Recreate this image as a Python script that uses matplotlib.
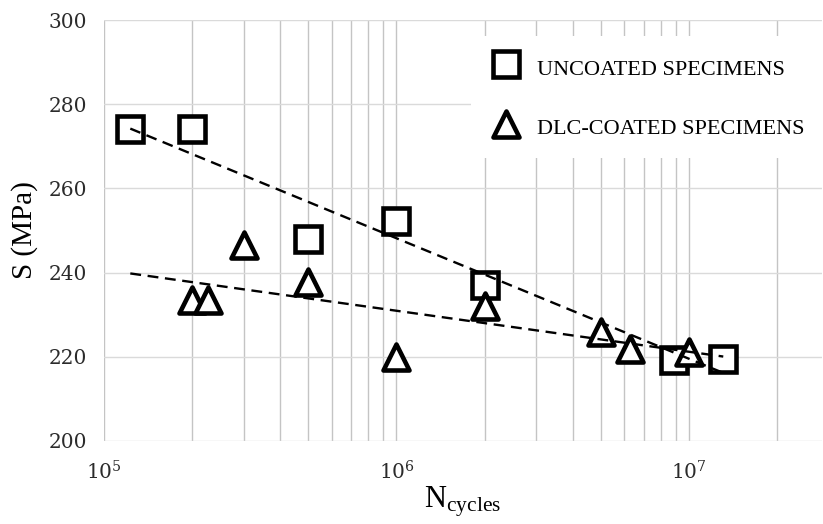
import matplotlib as mpl
mpl.use('Agg')
import matplotlib.pyplot as plot
import matplotlib.ticker as ticker
from matplotlib.markers import MarkerStyle
from matplotlib.lines import Line2D
import numpy as np

# S-N data
UNCOATED_N = [1.23e5, 2.0e5, 5.0e5, 1.0e6, 2.0e6, 8.9e6, 1.31e7]
UNCOATED_S = [274, 274, 248, 252.3, 237, 219.2, 219.5]

COATED_N = [2.0e5, 2.26e5, 3.0e5, 5.0e5, 1.0e6, 2.0e6, 5.0e6, 6.3e6, 1.0e7]
COATED_S = [233.5, 233.5, 246.6, 237.8, 220, 232, 225.9, 221.9, 221.1]

LABELS = ["UNCOATED SPECIMENS", "DLC-COATED SPECIMENS"]
Y_TICKS = [200, 220, 240, 260, 280, 300]

X_LIMIT = (1e5, 2.85e7)
Y_LIMIT = (200, 300)

MARKER_SIZE = 18.5
MARKER_EDGE = 3.3

mpl.rcParams['mathtext.fontset'] = 'dejavuserif'

fig = plot.figure(figsize=(8.23, 5.24), dpi=100)
ax = fig.add_axes([104 / 823, 1 - 441 / 524, (822 - 104) / 823, (441 - 20) / 524])

sq = MarkerStyle('s', joinstyle='miter')
tri = MarkerStyle('^', joinstyle='round')

# trend lines: linear fit of S against log10(N), over the full data range
n_lo = min(min(UNCOATED_N), min(COATED_N))
n_hi = max(max(UNCOATED_N), max(COATED_N))
n_fit = np.logspace(np.log10(n_lo), np.log10(n_hi), 100)
for n, s in [(UNCOATED_N, UNCOATED_S), (COATED_N, COATED_S)]:
    coef = np.polyfit(np.log10(n), s, 1)
    ax.plot(n_fit, np.polyval(coef, np.log10(n_fit)), color='black', lw=1.7,
            linestyle=(0, (4.6, 2.8)), zorder=5)

ax.plot(UNCOATED_N, UNCOATED_S, linestyle='none', marker=sq, ms=MARKER_SIZE,
        mfc='white', mec='black', mew=MARKER_EDGE, zorder=3)
ax.plot(COATED_N, COATED_S, linestyle='none', marker=tri, ms=MARKER_SIZE,
        mfc='white', mec='black', mew=MARKER_EDGE, zorder=4)

ax.set_xscale('log')
ax.set_xlim(*X_LIMIT)
ax.set_ylim(*Y_LIMIT)
ax.set_yticks(Y_TICKS)
ax.xaxis.set_minor_locator(ticker.LogLocator(base=10, subs=np.arange(2, 10)))
ax.xaxis.set_minor_formatter(ticker.NullFormatter())

ax.xaxis.grid(True, which='both', color='#c4c4c4', lw=1.0)
ax.yaxis.grid(True, which='major', color='#dadada', lw=1.0)
ax.set_axisbelow(True)
for sp in ax.spines.values():
    sp.set_visible(False)

ax.tick_params(axis='both', which='both', length=0, labelsize=14.5)
ax.tick_params(axis='y', pad=12)
ax.tick_params(axis='x', pad=14)
for lab in ax.get_xticklabels() + ax.get_yticklabels():
    lab.set_family('DejaVu Serif')
    lab.set_color('#2b2b2b')

ax.set_ylabel("S (MPa)", family='Liberation Serif', fontsize=21, labelpad=8)
ax.set_xlabel(r"N$_{\mathregular{cycles}}$", family='Liberation Serif', fontsize=22,
              math_fontfamily='stix', labelpad=1)

handles = [
    Line2D([], [], linestyle='none', marker=sq, ms=MARKER_SIZE, mfc='white',
           mec='black', mew=MARKER_EDGE),
    Line2D([], [], linestyle='none', marker=tri, ms=MARKER_SIZE, mfc='white',
           mec='black', mew=MARKER_EDGE),
]
leg = ax.legend(handles, LABELS, loc='upper left', bbox_to_anchor=(0.5107, 0.962),
                borderaxespad=0, borderpad=0.8, handlelength=1.55, handleheight=1.5,
                handletextpad=0.65, labelspacing=1.47, fancybox=False, framealpha=1,
                facecolor='white', edgecolor='none',
                prop={'family': 'Liberation Serif', 'size': 16})
leg.set_zorder(10)

plot.savefig("out.png", dpi=100)
